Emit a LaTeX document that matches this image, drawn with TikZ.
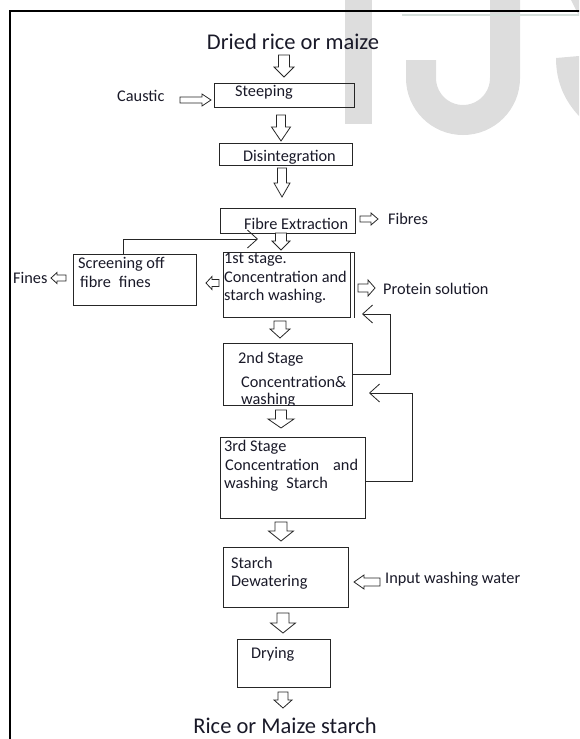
\documentclass[tikz,border=0pt]{standalone}
\usepackage{fontspec}
\setmainfont{Carlito}
\usetikzlibrary{arrows.meta}
\definecolor{wm}{RGB}{221,221,221}
\definecolor{ink}{RGB}{25,25,40}
\definecolor{faint}{RGB}{214,224,220}
\tikzset{
 box/.style={draw=black!85, line width=0.9pt, anchor=north west, inner sep=0pt},
 txt/.style={anchor=base west, inner sep=0pt, font=\fontsize{16.3}{19}\selectfont, text=ink},
 big/.style={anchor=base, inner sep=0pt, font=\fontsize{22.5}{27}\selectfont, text=ink},
 fb/.style={draw=black!85, line width=0.8pt},
 fbtip/.style={-{Straight Barb[length=10pt,width=18pt,line width=0.8pt]}},
 blkline/.style={draw=black!85, line width=0.8pt, fill=white, line join=miter},
 pics/blk/.style n args={4}{code={\draw[blkline] (0,{-#3/2}) -- ({#1-#2},{-#3/2}) -- ({#1-#2},{-#4/2}) -- (#1,0) -- ({#1-#2},{#4/2}) -- ({#1-#2},{#3/2}) -- (0,{#3/2}) -- cycle;}}
}
\begin{document}
\begin{tikzpicture}[x=1pt,y=-1pt]
\useasboundingbox (0,0) rectangle (579,739);
\clip (0,0) rectangle (579,739);
% watermark
\fill[wm] (345,0) rectangle (372,124);
\draw[wm, line width=30pt] (505,-5) -- (505,78) arc (0:180:42) -- (421,60);
\fill[wm] (556,58) -- (579,56) -- (579,116) .. controls (566,102) and (556,84) .. cycle;
\fill[wm] (571,0) -- (579,0) -- (579,16) -- cycle;
\draw[faint, line width=1.5pt] (402,15) -- (579,15);
% frame
\draw[line width=2pt] (590,11) -- (10,11) -- (10,750);
% titles
\node[big] (top) at (293,49) {Dried rice or maize};
\node[big] (bottom) at (285,733) {Rice or Maize starch};
% boxes
\node[box, minimum width=140pt, minimum height=24pt] (steep) at (214,83) {};
\node[box, minimum width=133pt, minimum height=22pt] (disint) at (219,143) {};
\node[box, minimum width=135pt, minimum height=25pt] (fibre) at (220,208) {};
\node[box, minimum width=127pt, minimum height=65pt] (s1) at (223,252) {};
\draw[fb] (s1.north east) -- ++(3,0) -- ([xshift=3pt]s1.south east);
\node[box, minimum width=123pt, minimum height=51pt] (scr) at (73,254) {};
\node[box, minimum width=129pt, minimum height=62pt] (s2) at (223,343) {};
\node[box, minimum width=145pt, minimum height=81pt] (s3) at (220,437) {};
\node[box, minimum width=125pt, minimum height=60pt] (dew) at (223,547) {};
\node[box, minimum width=93pt, minimum height=48pt] (dry) at (237,639) {};
% texts
\node[txt] (tcaustic) at (117,101) {Caustic};
\node[txt] (tsteep) at (235,96) {Steeping};
\node[txt] (tdisint) at (243,161) {Disintegration};
\node[txt] (tfibre) at (244,229) {Fibre Extraction};
\node[txt] (tfibres) at (388,224) {Fibres};
\node[txt] (ts1a) at (224,263) {1st stage.};
\node[txt] (ts1b) at (224,282) {Concentration and};
\node[txt] (ts1c) at (224,300) {starch washing.};
\node[txt] (tscra) at (78,268) {Screening off};
\node[txt] (tscrb) at (80,287) {fibre\hspace{8pt}fines};
\node[txt] (tfines) at (13,283) {Fines};
\node[txt] (tprot) at (383,294) {Protein solution};
\node[txt] (ts2a) at (238,363) {2nd Stage};
\node[txt] (ts2b) at (241,387) {Concentration\&};
\begin{scope}
\clip (223,343) rectangle (352,405);
\node[txt] (ts2c) at (241,404) {washing};
\end{scope}
\node[txt] (ts3a) at (224,451) {3rd Stage};
\node[txt] (ts3b) at (225,470) {Concentration\hspace{14pt}and};
\node[txt] (ts3c) at (224,488) {washing\hspace{8pt}Starch};
\node[txt] (tdewa) at (231,568) {Starch};
\node[txt] (tdewb) at (231,586) {Dewatering};
\node[txt] (tinput) at (385,583) {Input washing water};
\node[txt] (tdry) at (251,658) {Drying};
% feedback connectors
\coordinate (f1) at (258,239);
\coordinate (f2) at (362,314);
\coordinate (f3) at (369,393);
\draw[fb, fbtip] ([xshift=-11.5pt]scr.north) |- (f1);
\draw[fb, fbtip] (s2.east) -| (390,314) -- (f2);
\draw[fb, fbtip] ([yshift=-3pt]s3.east) -| (412,393) -- (f3);
% block arrows
\pic[rotate=-90] (a1) at (284,55) {blk={22}{10}{11}{20}};
\pic[rotate=-90] (a2) at (281,115) {blk={26}{14}{9}{19}};
\pic[rotate=-90] (a3) at (282,168) {blk={29}{14}{9}{16}};
\pic[rotate=-90] (a4) at (281,233) {blk={17}{9}{11}{18}};
\pic[rotate=-90] (a5) at (280,321) {blk={17}{9}{12}{20}};
\pic[rotate=-90] (a6) at (281,410) {blk={18}{9}{11}{26}};
\pic[rotate=-90] (a7) at (281,522) {blk={19}{10}{12}{25}};
\pic[rotate=-90] (a8) at (283,613) {blk={20}{10}{12}{25}};
\pic[rotate=-90] (a9) at (283,692) {blk={16}{8}{10}{18}};
\pic (acaustic) at (180,100) {blk={31}{9}{6}{12}};
\pic (afibres) at (360,219) {blk={18}{7}{6}{12}};
\pic[rotate=180] (ascr) at (219,283) {blk={13}{6}{7}{13}};
\pic[rotate=180] (afines) at (66,278) {blk={15}{6}{6}{11}};
\pic (aprot) at (358,288) {blk={17}{7}{8}{16}};
\pic[rotate=180] (ainput) at (380,582) {blk={26}{10}{8}{14}};
\end{tikzpicture}
\end{document}
